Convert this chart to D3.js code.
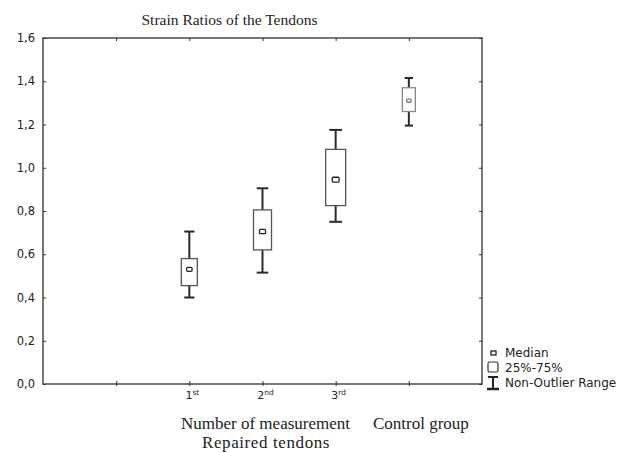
<!DOCTYPE html>
<html>
<head>
<meta charset="utf-8">
<script src="https://cdn.jsdelivr.net/npm/d3@7"></script>
<style>
  body { margin: 0; background: #fff; }
  svg { display: block; }
</style>
</head>
<body>
<svg width="625" height="453"></svg>
<script>
// categories on the x axis (first slot is empty, as in the original)
var slots = ["", "1st", "2nd", "3rd", "Control group"];
var groups = ["1st", "2nd", "3rd", "Control group"];
var tickNum = ["1", "2", "3"];
var tickSup = ["st", "nd", "rd"];

// box values
var whiskerLow  = [0.40, 0.515, 0.75, 1.195];
var q1          = [0.455, 0.62, 0.825, 1.26];
var median      = [0.53, 0.705, 0.945, 1.31];
var q3          = [0.58, 0.805, 1.085, 1.37];
var whiskerHigh = [0.705, 0.905, 1.175, 1.415];

var yTicks = [0, 0.2, 0.4, 0.6, 0.8, 1.0, 1.2, 1.4, 1.6];

var svg = d3.select("svg"),
    pLeft = 43, pRight = 482, pTop = 38, pBottom = 384;

var x = d3.scalePoint().domain(slots).range([pLeft, pRight]).padding(1);
var y = d3.scaleLinear().domain([0, 1.6]).range([pBottom, pTop]);

var boxW = [16, 18, 20, 13];   // box widths differ in the original
var fmt = function (d) { return d3.format(".1f")(d).replace(".", ","); };

// frame
svg.append("rect")
    .attr("x", pLeft).attr("y", pTop)
    .attr("width", pRight - pLeft).attr("height", pBottom - pTop)
    .attr("fill", "none").attr("stroke", "#555").attr("stroke-width", 1.6);

// y axis (left) + inward ticks
var yAxis = svg.append("g")
    .attr("transform", "translate(" + pLeft + ",0)")
    .call(d3.axisLeft(y).tickValues(yTicks).tickSize(-3).tickPadding(8).tickFormat(fmt));
yAxis.select(".domain").remove();
yAxis.selectAll("line").attr("stroke", "#333");
yAxis.selectAll("text")
    .attr("font-family", "DejaVu Sans").attr("font-size", 11.5).attr("fill", "#222");

// right ticks
svg.append("g")
    .attr("transform", "translate(" + pRight + ",0)")
    .call(d3.axisRight(y).tickValues(yTicks).tickSize(-3).tickFormat(""))
    .call(function (g) { g.select(".domain").remove(); g.selectAll("line").attr("stroke", "#333"); });

// top ticks
svg.append("g")
    .attr("transform", "translate(0," + pTop + ")")
    .call(d3.axisTop(x).tickSize(-3).tickFormat(""))
    .call(function (g) { g.select(".domain").remove(); g.selectAll("line").attr("stroke", "#333"); });

// bottom ticks
var xAxis = svg.append("g")
    .attr("transform", "translate(0," + pBottom + ")")
    .call(d3.axisBottom(x).tickSize(-3).tickFormat(""));
xAxis.select(".domain").remove();
xAxis.selectAll("line").attr("stroke", "#333").attr("y1", 2);

// tick labels 1st 2nd 3rd with superscripts
var lbl = svg.selectAll(".xlab")
    .data(tickNum)
    .enter().append("text")
    .attr("class", "xlab")
    .attr("x", function (d, i) { return x(groups[i]) + 3; })
    .attr("y", 399)
    .attr("text-anchor", "middle")
    .attr("font-family", "DejaVu Sans")
    .attr("font-size", 11)
    .attr("fill", "#222");
lbl.append("tspan").text(function (d) { return d; });
lbl.append("tspan")
    .attr("font-size", 7.5)
    .attr("dy", -4)
    .text(function (d, i) { return tickSup[i]; });

// boxes
var box = svg.selectAll(".box")
    .data(groups)
    .enter().append("g")
    .attr("class", "box")
    .attr("transform", function (d) { return "translate(" + x(d) + ",0)"; });

box.append("line")   // upper whisker
    .attr("x1", 0).attr("x2", 0)
    .attr("y1", function (d, i) { return y(q3[i]); })
    .attr("y2", function (d, i) { return y(whiskerHigh[i]); })
    .attr("stroke", "#2a2a2a").attr("stroke-width", 2);
box.append("line")   // lower whisker
    .attr("x1", 0).attr("x2", 0)
    .attr("y1", function (d, i) { return y(q1[i]); })
    .attr("y2", function (d, i) { return y(whiskerLow[i]); })
    .attr("stroke", "#2a2a2a").attr("stroke-width", 2);
[whiskerHigh, whiskerLow].forEach(function (arr) {
    box.append("line")
        .attr("x1", function (d, i) { return -boxW[i] * 0.32; })
        .attr("x2", function (d, i) { return boxW[i] * 0.32; })
        .attr("y1", function (d, i) { return y(arr[i]); })
        .attr("y2", function (d, i) { return y(arr[i]); })
        .attr("stroke", "#2a2a2a").attr("stroke-width", 2);
});

box.append("rect")
    .attr("x", function (d, i) { return -boxW[i] / 2; })
    .attr("width", function (d, i) { return boxW[i]; })
    .attr("y", function (d, i) { return y(q3[i]); })
    .attr("height", function (d, i) { return y(q1[i]) - y(q3[i]); })
    .attr("fill", "#fff")
    .attr("stroke", function (d, i) { return i == 3 ? "#888" : "#555"; })
    .attr("stroke-width", 1.3);

box.append("rect")   // median marker
    .attr("x", function (d, i) { return -boxW[i] * 0.17; })
    .attr("width", function (d, i) { return boxW[i] * 0.34; })
    .attr("y", function (d, i) { return y(median[i]) - boxW[i] * 0.12; })
    .attr("height", function (d, i) { return boxW[i] * 0.24; })
    .attr("rx", 1)
    .attr("fill", "#fff")
    .attr("stroke", function (d, i) { return i == 3 ? "#777" : "#222"; })
    .attr("stroke-width", 1.3);

// titles
svg.append("text")
    .attr("x", 141.5).attr("y", 25)
    .attr("font-family", "Liberation Serif").attr("font-size", 15.5).attr("fill", "#222")
    .text("Strain Ratios of the Tendons");

svg.append("text")
    .attr("x", 181).attr("y", 429)
    .attr("font-family", "Liberation Serif").attr("font-size", 17).attr("fill", "#222")
    .text("Number of measurement");
svg.append("text")
    .attr("x", 373).attr("y", 429)
    .attr("font-family", "Liberation Serif").attr("font-size", 17).attr("fill", "#222")
    .text("Control group");
svg.append("text")
    .attr("x", 266).attr("y", 448)
    .attr("text-anchor", "middle")
    .attr("letter-spacing", 0.6)
    .attr("font-family", "Liberation Serif").attr("font-size", 17).attr("fill", "#222")
    .text("Repaired tendons");

// legend
var leg = svg.append("g");
leg.append("rect").attr("x", 491).attr("y", 351).attr("width", 5).attr("height", 4)
    .attr("fill", "#fff").attr("stroke", "#222").attr("stroke-width", 1.3);
leg.append("rect").attr("x", 488).attr("y", 362).attr("width", 10).attr("height", 10).attr("rx", 1.5)
    .attr("fill", "#fff").attr("stroke", "#333").attr("stroke-width", 1.2);
leg.append("line").attr("x1", 493).attr("x2", 493).attr("y1", 377).attr("y2", 389)
    .attr("stroke", "#222").attr("stroke-width", 2);
leg.append("line").attr("x1", 488).attr("x2", 498).attr("y1", 377).attr("y2", 377)
    .attr("stroke", "#222").attr("stroke-width", 2);
leg.append("line").attr("x1", 487).attr("x2", 499).attr("y1", 389).attr("y2", 389)
    .attr("stroke", "#222").attr("stroke-width", 2.5);

var legText = ["Median", "25%-75%", "Non-Outlier Range"];
leg.selectAll(".lt")
    .data(legText)
    .enter().append("text")
    .attr("x", 505)
    .attr("y", function (d, i) { return 357 + i * 15; })
    .attr("font-family", "DejaVu Sans").attr("font-size", 12).attr("fill", "#222")
    .text(function (d) { return d; });
</script>
</body>
</html>
